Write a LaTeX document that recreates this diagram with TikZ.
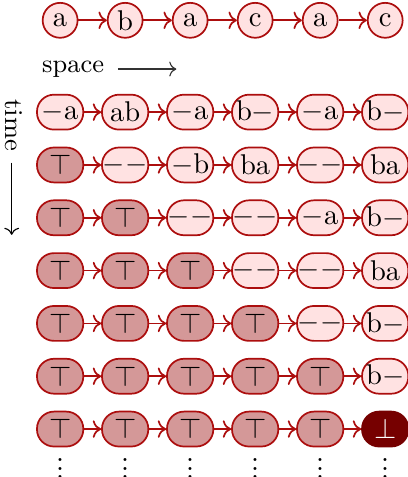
\documentclass[tikz,border=0pt]{standalone}
\usepackage{amsmath}
\usepackage{amssymb}
\usepackage{tikz}
\usetikzlibrary{arrows.meta,positioning}
\definecolor{cellred}{RGB}{172,14,14}
\definecolor{cellpink}{RGB}{255,226,226}
\definecolor{celldone}{RGB}{212,152,152}
\definecolor{cellfail}{RGB}{118,0,0}
\newcommand{\stepdots}{\vbox{\baselineskip3pt\lineskiplimit0pt\hbox{.}\hbox{.}\hbox{.}}}

\begin{document}
\begin{tikzpicture}[
  sym/.style={draw=cellred, fill=cellpink, circle, line width=0.6pt, minimum size=4.3mm, inner sep=0pt},
  cellL/.style={draw=cellred, fill=cellpink, rounded corners=2.1mm, line width=0.6pt,
    minimum width=5.7mm, minimum height=4.3mm, inner sep=0pt},
  cellT/.style={cellL, fill=celldone},
  cellF/.style={cellL, fill=cellfail, draw=cellfail, text=white},
  link/.style={->, draw=cellred, line width=0.6pt}
]
\useasboundingbox (0,0) rectangle (5.02,-5.87);
% input word
\foreach \t [count=\c] in {a,b,a,c,a,c}
  \node[sym] (w\c) at ({0.8*\c-0.06},-0.25) {\t};
\foreach \a/\b in {1/2,2/3,3/4,4/5,5/6}
  \draw[link] (w\a) -- (w\b);
% axes
\node[font=\small] (space) at (0.9,-0.85) {space};
\coordinate (sa) at (1.45,-0.85);
\coordinate (sb) at (2.17,-0.85);
\draw[->, black!80] (sa) -- (sb);
\node[font=\small, rotate=-90] (time) at (0.17,-1.54) {time};
\coordinate (ta) at (0.144,-2.0);
\coordinate (tb) at (0.144,-2.89);
\draw[->] (ta) -- (tb);
% rows of cells
\foreach \row [count=\r] in {
  {cellL/$-$a, cellL/ab, cellL/$-$a, cellL/b$-$, cellL/$-$a, cellL/b$-$},
  {cellT/$\top$, cellL/$-$$-$, cellL/$-$b, cellL/ba, cellL/$-$$-$, cellL/ba},
  {cellT/$\top$, cellT/$\top$, cellL/$-$$-$, cellL/$-$$-$, cellL/$-$a, cellL/b$-$},
  {cellT/$\top$, cellT/$\top$, cellT/$\top$, cellL/$-$$-$, cellL/$-$$-$, cellL/ba},
  {cellT/$\top$, cellT/$\top$, cellT/$\top$, cellT/$\top$, cellL/$-$$-$, cellL/b$-$},
  {cellT/$\top$, cellT/$\top$, cellT/$\top$, cellT/$\top$, cellT/$\top$, cellL/b$-$},
  {cellT/$\top$, cellT/$\top$, cellT/$\top$, cellT/$\top$, cellT/$\top$, cellF/$\bot$}}
  \foreach \s/\t [count=\c] in \row
    \node[\s] (n\r\c) at ({0.8*\c-0.06},{-0.73-0.65*\r}) {\t};
\foreach \r in {1,...,7}
  \foreach \a/\b in {1/2,2/3,3/4,4/5,5/6}
    \draw[link] (n\r\a) -- (n\r\b);
% more steps
\foreach \c in {1,...,6}
  \node[inner sep=0pt] (d\c) at ({0.8*\c-0.06},-5.77) {\stepdots};
\end{tikzpicture}
\end{document}
